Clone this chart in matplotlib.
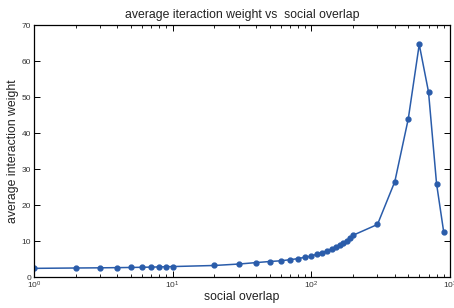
import matplotlib
matplotlib.use("Agg")
import matplotlib.pyplot as plt
from matplotlib.ticker import LogLocator

plt.rcParams['font.family'] = ['Liberation Sans', 'DejaVu Sans']

overlap = [1, 2, 3, 4, 5, 6, 7, 8, 9, 10,
           20, 30, 40, 50, 60, 70, 80, 90, 100,
           110, 120, 130, 140, 150, 160, 170, 180, 190, 200,
           300, 400, 500, 600, 700, 800, 900]
weight = [2.4, 2.5, 2.55, 2.6, 2.65, 2.7, 2.75, 2.8, 2.85, 2.9,
          3.2, 3.6, 4.0, 4.3, 4.5, 4.8, 5.1, 5.5, 5.8,
          6.4, 6.8, 7.3, 7.8, 8.3, 8.9, 9.4, 10.1, 10.8, 11.6,
          14.6, 26.5, 43.9, 64.6, 51.4, 25.9, 12.6]
yticks = [0, 10, 20, 30, 40, 50, 60, 70]

fig = plt.figure(figsize=(4.54, 3.08), dpi=100)
ax = fig.add_axes([34/454, 31/308, 416/454, 252/308])
ax.plot(overlap, weight, '-o', color='#2a5caa', lw=1.1, ms=3.5)
ax.set_xscale('log')
ax.set_xlim(1, 1000)
ax.set_ylim(0, 70)
ax.set_yticks(yticks)
ax.xaxis.set_minor_locator(LogLocator(base=10, subs=range(2, 10)))
ax.tick_params(which='both', direction='in', top=True, right=True, labelsize=6, pad=2,
               labelcolor='#333333')
ax.tick_params(which='major', length=4, width=0.7)
ax.tick_params(which='minor', length=2, width=0.6)
for s in ax.spines.values():
    s.set_linewidth(0.9)
ax.set_title('average iteraction weight vs  social overlap', fontsize=8.8, pad=5, color='#222222')
ax.set_xlabel('social overlap', fontsize=8.8, labelpad=0, color='#222222')
ax.set_ylabel('average interaction weight', fontsize=8.8, labelpad=2, color='#222222')
fig.savefig('out.png', dpi=100)
